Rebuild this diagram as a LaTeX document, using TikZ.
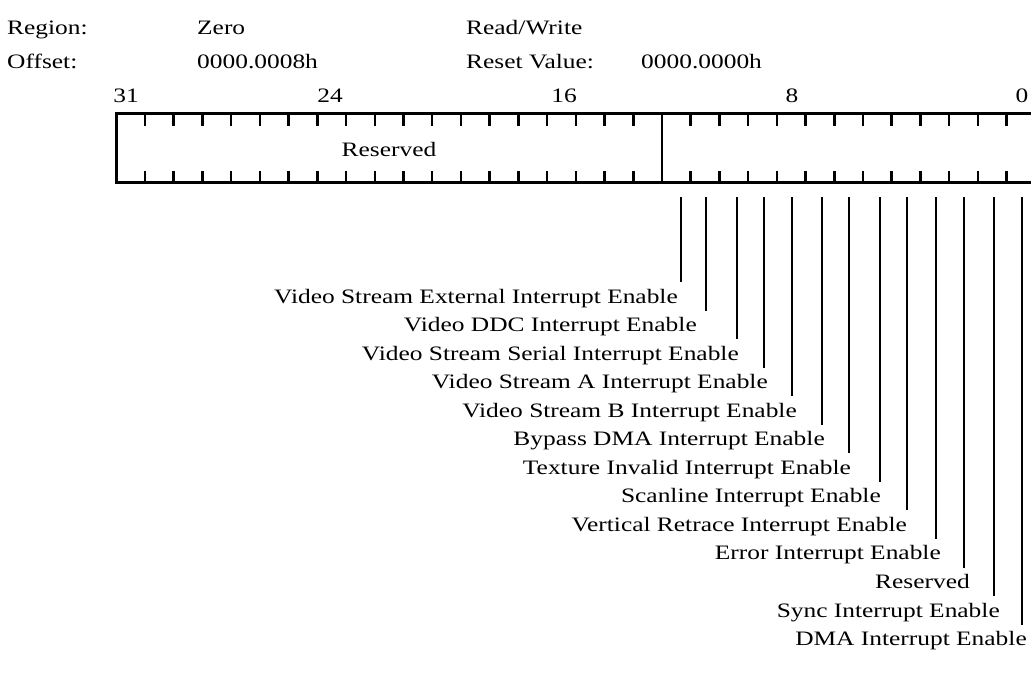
\documentclass[tikz,border=0pt]{standalone}
\usepackage{fontspec}
\setmainfont{Liberation Serif}[FakeStretch=1.24]
\begin{document}
\begin{tikzpicture}[x=1pt,y=-1pt,
  txt/.style={inner sep=0pt,font=\fontsize{20.5}{24}\selectfont},
  regline/.style={line width=2.5pt},
  tick/.style={line width=2.5pt},
  fieldline/.style={line width=2.5pt}]
\useasboundingbox (0,0) rectangle (1031,673);
% header
\node[txt,anchor=base west] (rl) at (7,34) {Region:};
\node[txt,anchor=base west] (rv) at (197,34) {Zero};
\node[txt,anchor=base west] (rw) at (466,34) {Read/Write};
\node[txt,anchor=base west] (ol) at (7,68) {Offset:};
\node[txt,anchor=base west] (ov) at (197,68) {0000.0008h};
\node[txt,anchor=base west] (rsl) at (466,68) {Reset Value:};
\node[txt,anchor=base west] (rsv) at (641,68) {0000.0000h};
% bit numbers
\node[txt,anchor=base] (b31) at (126,102) {31};
\node[txt,anchor=base] (b24) at (330,102) {24};
\node[txt,anchor=base] (b16) at (564,102) {16};
\node[txt,anchor=base] (b8) at (792,102) {8};
\node[txt,anchor=base] (b0) at (1022,102) {0};
% register box
\begin{scope}
\clip (0,0) rectangle (1031,673);
\coordinate (bl) at (116.3,113.5);
\coordinate (br) at (1035.4,182.5);
\draw[regline] (bl) rectangle (br);
\foreach \i in {1,...,31}{
  \pgfmathsetmacro{\xx}{116.3+\i*28.72}
  \ifnum\i=19
    \draw[regline] (\xx,113.5) -- (\xx,182.5);
  \else
    \draw[tick] (\xx,113.5) -- (\xx,125.5);
    \draw[tick] (\xx,182.5) -- (\xx,170.5);
  \fi
}
\end{scope}
\node[txt,anchor=base] (res) at (389,156) {Reserved};
% field lines and labels
\foreach \k/\lx/\rx/\t in {
  1/681/678/Video Stream External Interrupt Enable,
  2/706/697/Video DDC Interrupt Enable,
  3/737/739/Video Stream Serial Interrupt Enable,
  4/764/768/Video Stream A Interrupt Enable,
  5/792/797/Video Stream B Interrupt Enable,
  6/822/825/Bypass DMA Interrupt Enable,
  7/849/851/Texture Invalid Interrupt Enable,
  8/880/881/Scanline Interrupt Enable,
  9/907/907/Vertical Retrace Interrupt Enable,
  10/936/941/Error Interrupt Enable,
  11/964/970/Reserved,
  12/994/1000/Sync Interrupt Enable,
  13/1022/1027/DMA Interrupt Enable}{
  \pgfmathsetmacro{\by}{303+(\k-1)*28.55}
  \node[txt,anchor=base east] (lab\k) at (\rx,\by) {\t};
  \coordinate (lt\k) at (\lx,197);
  \coordinate (lb\k) at (\lx,\by-21);
  \draw[fieldline] (lt\k) -- (lb\k);
}
\end{tikzpicture}
\end{document}
